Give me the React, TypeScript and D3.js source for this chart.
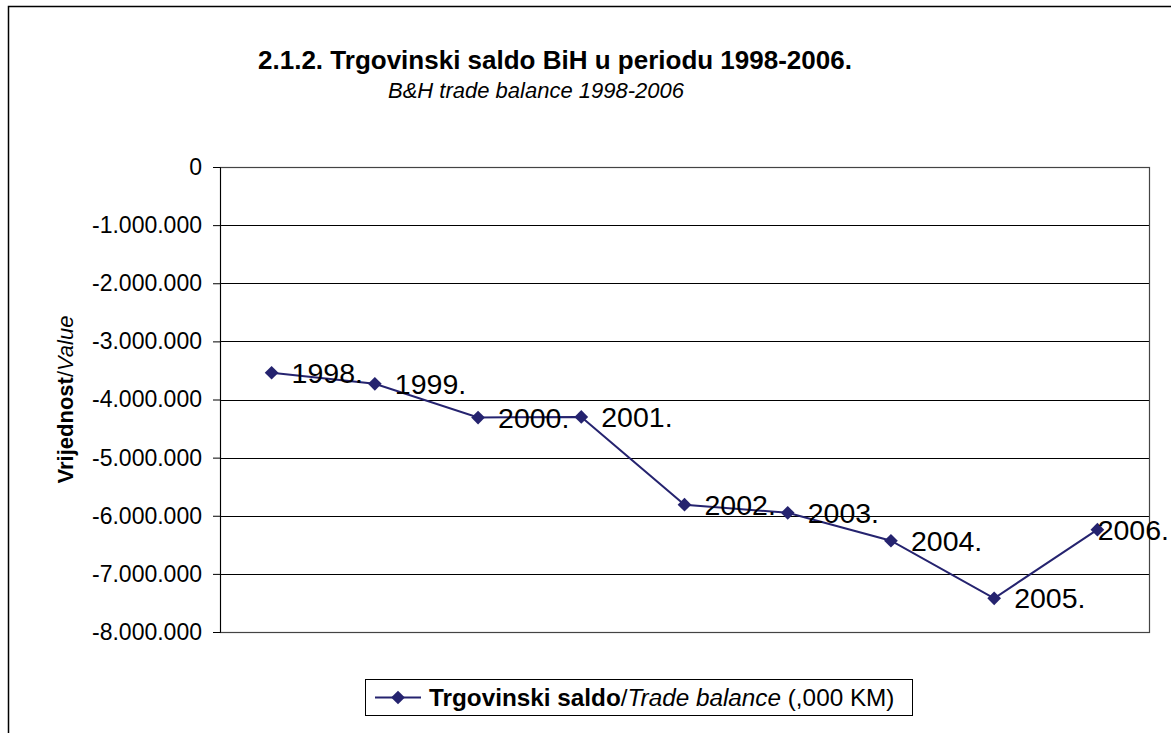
import React, { useEffect, useRef } from 'react'
import * as d3 from 'd3'

// Trgovinski saldo BiH (,000 KM)
const years = ['1998.', '1999.', '2000.', '2001.', '2002.', '2003.', '2004.', '2005.', '2006.']
const balance = [-3540000, -3730000, -4310000, -4300000, -5810000, -5950000, -6430000, -7420000, -6240000]
const yTicks = [0, -1000000, -2000000, -3000000, -4000000, -5000000, -6000000, -7000000, -8000000]

const FONT = "'Liberation Sans', Arial, sans-serif"
const LINE = '#25236f'

const App = () => {
  const svgRef = useRef(null)

  useEffect(() => {
    const svg = d3.select(svgRef.current)
    svg.selectAll('*').remove()

    const width = 1171
    const height = 733
    const margin = { left: 220, top: 167, right: 22, bottom: 101 }
    const bodyWidth = width - margin.left - margin.right
    const bodyHeight = height - margin.top - margin.bottom

    const locale = d3.formatLocale({ decimal: ',', thousands: '.', grouping: [3], currency: ['', ''], minus: '-' })
    const fmt = locale.format(',')

    const xScale = d3.scalePoint().domain(years).range([0, bodyWidth]).padding(0.5)
    const yScale = d3.scaleLinear().domain([-8000000, 0]).range([bodyHeight, 0])

    // outer chart frame (runs off the right and bottom of the picture)
    svg.append('rect')
      .attr('x', 8.5).attr('y', 6.5)
      .attr('width', 1200).attr('height', 800)
      .attr('fill', 'white').attr('stroke', '#000').attr('stroke-width', 1.5)

    // titles
    svg.append('text')
      .attr('x', 555).attr('y', 69)
      .attr('text-anchor', 'middle')
      .style('font-family', FONT).style('font-weight', 'bold').style('font-size', '26px')
      .text('2.1.2. Trgovinski saldo BiH u periodu 1998-2006.')
    svg.append('text')
      .attr('x', 536).attr('y', 98)
      .attr('text-anchor', 'middle')
      .style('font-family', FONT).style('font-style', 'italic').style('font-size', '22px')
      .text('B&H trade balance 1998-2006')

    const body = svg.append('g').attr('transform', `translate(${margin.left},${margin.top})`)

    // gridlines
    body.append('g')
      .selectAll('line')
      .data(yTicks)
      .join('line')
      .attr('x1', 0).attr('x2', bodyWidth)
      .attr('y1', (d) => Math.round(yScale(d)) + 0.5)
      .attr('y2', (d) => Math.round(yScale(d)) + 0.5)
      .attr('stroke', '#000').attr('stroke-width', 1)

    // plot border
    body.append('rect')
      .attr('x', 0.5).attr('y', 0.5)
      .attr('width', bodyWidth).attr('height', Math.round(bodyHeight))
      .attr('fill', 'none').attr('stroke', '#444').attr('stroke-width', 1.2)

    const yAxis = body.append('g')
      .call(d3.axisLeft(yScale).tickValues(yTicks).tickFormat(fmt).tickSize(7).tickPadding(11))
    yAxis.select('.domain').attr('stroke', '#000')
    yAxis.selectAll('.tick line').attr('stroke', '#000')
    yAxis.selectAll('.tick text')
      .style('font-family', FONT).style('font-size', '23px').attr('fill', '#000')

    // y axis title
    const yTitle = svg.append('text')
      .attr('transform', `translate(73,${margin.top + bodyHeight / 2}) rotate(-90)`)
      .attr('text-anchor', 'middle')
      .style('font-family', FONT).style('font-size', '22px')
    yTitle.append('tspan').style('font-weight', 'bold').text('Vrijednost')
    yTitle.append('tspan').text('/')
    yTitle.append('tspan').style('font-style', 'italic').text('Value')

    // series
    const points = years.map((y, i) => ({ year: y, value: balance[i] }))
    const lineGen = d3.line()
      .x((d) => xScale(d.year))
      .y((d) => yScale(d.value))

    body.append('path')
      .datum(points)
      .attr('d', lineGen)
      .attr('fill', 'none').attr('stroke', LINE).attr('stroke-width', 2)

    const diamond = d3.symbol().type(d3.symbolDiamond2).size(120)
    body.append('g')
      .selectAll('path')
      .data(points)
      .join('path')
      .attr('d', diamond)
      .attr('transform', (d) => `translate(${xScale(d.year)},${yScale(d.value)})`)
      .attr('fill', LINE)

    // data labels
    const labels = body.append('g')
      .selectAll('text')
      .data(points)
      .join('text')
      .attr('y', (d) => yScale(d.value) + 10)
      .style('font-family', FONT).style('font-size', '28.5px').attr('fill', '#000')
      .text((d) => d.year)
    labels.attr('x', function (d) {
      const w = this.getComputedTextLength()
      const x = xScale(d.year) + 20
      const maxX = width - 2 - margin.left - w
      return Math.min(x, maxX)
    })

    // legend
    const lg = svg.append('g').attr('transform', 'translate(365,679)')
    lg.append('rect')
      .attr('x', 0.5).attr('y', 0.5).attr('width', 547).attr('height', 36)
      .attr('fill', 'white').attr('stroke', '#000').attr('stroke-width', 1)
    lg.append('line')
      .attr('x1', 10).attr('x2', 56).attr('y1', 18.5).attr('y2', 18.5)
      .attr('stroke', LINE).attr('stroke-width', 2)
    lg.append('path')
      .attr('d', diamond)
      .attr('transform', 'translate(33,18.5)')
      .attr('fill', LINE)
    const lt = lg.append('text')
      .attr('x', 64).attr('y', 27)
      .style('font-family', FONT).style('font-size', '24.3px')
    lt.append('tspan').style('font-weight', 'bold').text('Trgovinski saldo')
    lt.append('tspan').text('/')
    lt.append('tspan').style('font-style', 'italic').text('Trade balance')
    lt.append('tspan').text(' (,000 KM)')
  }, [])

  return (
    <div>
      <svg ref={svgRef} width={1171} height={733} style={{ position: 'absolute', left: 0, top: 0 }} />
    </div>
  )
}

export default App
